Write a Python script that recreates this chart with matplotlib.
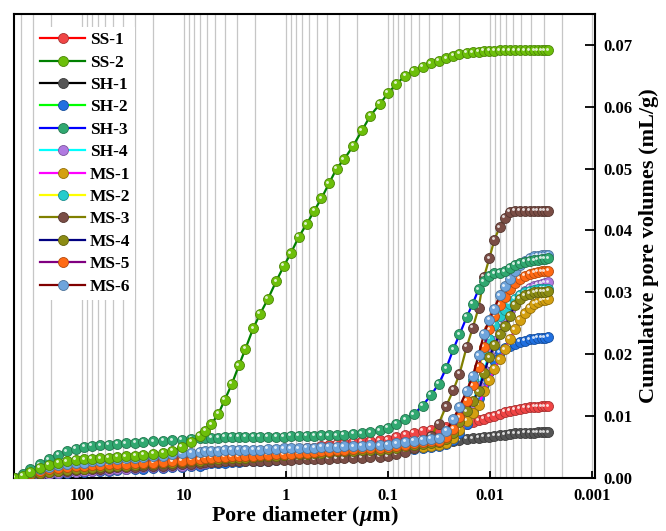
import matplotlib
matplotlib.use("Agg")
import numpy as np
import matplotlib.pyplot as plt
from matplotlib.colors import to_rgb
from matplotlib.transforms import offset_copy
from matplotlib.ticker import LogLocator, FixedLocator, FixedFormatter, NullFormatter

plt.rcParams['font.family'] = ['Liberation Serif', 'DejaVu Serif']
plt.rcParams['font.weight'] = 'bold'
plt.rcParams['mathtext.fontset'] = 'custom'
plt.rcParams['mathtext.it'] = 'Liberation Serif:italic:bold'
plt.rcParams['mathtext.rm'] = 'Liberation Serif:bold'

# pore diameter (um), shared by all samples
diameter = [460, 380, 320, 260, 210, 170, 140, 115, 95, 80, 66, 55, 45, 37, 30, 25, 20, 16, 13, 10.5,
            8.5, 7.0, 6.2, 5.4, 4.6, 4.0, 3.4, 2.9, 2.5, 2.1, 1.8, 1.5, 1.25, 1.05, 0.9, 0.75, 0.63,
            0.53, 0.45, 0.38, 0.32, 0.27, 0.22, 0.18, 0.15, 0.12, 0.10, 0.083, 0.068, 0.056, 0.046,
            0.038, 0.032, 0.027, 0.023, 0.020, 0.017, 0.0148, 0.0130, 0.0115, 0.0102, 0.0091, 0.0081,
            0.0072, 0.0064, 0.0057, 0.0051, 0.0046, 0.0041, 0.0037, 0.0034, 0.0031, 0.0029, 0.0027]

# cumulative pore volume, in 1e-3 mL/g
ss1 = [0, 0.5, 0.9, 1.3, 1.6, 1.9, 2.0, 2.1, 2.2,
       2.3, 2.4, 2.5, 2.6, 2.7, 2.8, 2.9, 3.0, 3.1, 3.2, 3.4,
       3.5, 3.6, 3.9,
       4.0, 4.0, 4.1, 4.1, 4.2, 4.2, 4.3, 4.3, 4.4, 4.4, 4.5,
       4.6, 4.7, 4.8, 4.9, 5.1, 5.3, 5.5, 5.6, 5.8, 5.9, 6.0, 6.1, 6.2,
       6.6, 7.0, 7.3, 7.6, 7.8, 8.0, 8.2, 8.4, 8.6, 8.8, 9.1, 9.3, 9.6, 9.9, 10.1, 10.4, 10.7,
       10.9, 11.0, 11.2, 11.3, 11.4, 11.5, 11.5, 11.6, 11.6, 11.6]
ss2 = [0, 0.4, 1.0, 1.6, 2.1, 2.5, 2.7, 2.9, 3.0,
       3.1, 3.2, 3.3, 3.4, 3.5, 3.6, 3.7, 3.9, 4.1, 4.4, 5.0,
       5.8, 6.8, 7.6,
       8.7, 10.4, 12.6, 15.2, 18.2, 20.9, 24.2, 26.5, 29.0, 31.8, 34.3,
       36.3, 39.0, 41.0, 43.2, 45.2, 47.6, 50.0, 51.5, 53.7, 56.2, 58.5, 60.5, 62.2,
       63.7, 65.0, 65.8, 66.4, 67.0, 67.4, 67.8, 68.2, 68.5, 68.7, 68.8, 68.9, 69.0, 69.0, 69.0,
       69.1, 69.1, 69.1, 69.1, 69.1, 69.1, 69.1, 69.1, 69.1, 69.1, 69.1, 69.1]
sh1 = [0, 0.4, 0.8, 1.2, 1.5, 1.7, 1.8, 1.9, 2.0,
       2.1, 2.2, 2.3, 2.4, 2.5, 2.6, 2.7, 2.8, 2.8, 2.9, 3.0,
       3.1, 3.3, 3.5,
       3.6, 3.6, 3.7, 3.7, 3.8, 3.8, 3.9, 3.9, 3.9, 4.0, 4.0,
       4.1, 4.1, 4.2, 4.2, 4.3, 4.3, 4.4, 4.4, 4.5, 4.6, 4.6, 4.7, 4.8,
       5.0, 5.2, 5.3, 5.4, 5.6, 5.7, 5.9, 6.0, 6.1, 6.3, 6.4, 6.5, 6.6, 6.7, 6.8, 6.9, 7.0,
       7.1, 7.2, 7.2, 7.3, 7.3, 7.3, 7.4, 7.4, 7.4, 7.4]
sh2 = [0, 0.1, 0.2, 0.4, 0.6, 0.7, 0.8, 0.9, 1.0,
       1.1, 1.2, 1.2, 1.3, 1.4, 1.4, 1.5, 1.6, 1.6, 1.7, 1.8,
       1.9, 2.0, 2.3,
       2.4, 2.5, 2.5, 2.6, 2.6, 2.7, 2.7, 2.8, 2.8, 2.9, 3.0,
       3.1, 3.2, 3.3, 3.4, 3.5, 3.6, 3.7, 3.8, 3.9, 4.0, 4.0, 4.1, 4.2,
       4.4, 4.6, 4.7, 4.8, 5.0, 5.2, 5.5, 6.2, 7.2, 8.8, 10.8, 13.0, 15.2, 17.2, 19.0, 20.3, 21.0,
       21.3, 21.7, 22.0, 22.2, 22.4, 22.5, 22.6, 22.7, 22.7, 22.8]
sh3 = [0, 0.6, 1.4, 2.2, 3.0, 3.7, 4.3, 4.7, 5.0,
       5.2, 5.3, 5.4, 5.5, 5.6, 5.7, 5.8, 5.9, 6.0, 6.1, 6.2,
       6.3, 6.4, 6.5,
       6.5, 6.5, 6.6, 6.6, 6.6, 6.6, 6.6, 6.7, 6.7, 6.7, 6.7,
       6.8, 6.8, 6.8, 6.8, 6.9, 6.9, 6.9, 7.0, 7.1, 7.2, 7.4, 7.7, 8.1,
       8.8, 9.5, 10.3, 11.7, 13.4, 15.2, 17.7, 20.8, 23.2, 26.0, 28.2, 30.5, 31.8, 32.7, 33.1,
       33.2, 33.4, 34.0, 34.4, 34.7, 34.9, 35.1, 35.2, 35.3, 35.4, 35.4, 35.5]
sh4 = [0, 0.2, 0.3, 0.5, 0.7, 0.8, 0.9, 1.0, 1.1,
       1.2, 1.3, 1.3, 1.4, 1.5, 1.6, 1.7, 1.7, 1.8, 1.9, 2.0,
       2.1, 2.2, 2.5,
       2.6, 2.7, 2.7, 2.8, 2.9, 2.9, 3.0, 3.1, 3.1, 3.2, 3.3,
       3.4, 3.5, 3.6, 3.7, 3.8, 3.9, 4.0, 4.2, 4.3, 4.4, 4.5, 4.7, 4.8,
       5.0, 5.2, 5.4, 5.6, 5.8, 6.0, 6.4, 7.2, 8.2, 10.0, 12.2, 14.8, 17.5, 20.0, 22.2, 24.0,
       25.7, 27.2, 28.5, 29.5, 30.2, 30.7, 31.0, 31.2, 31.4, 31.5, 31.6]
ms1 = [0, 0.3, 0.5, 0.8, 1.0, 1.2, 1.3, 1.4, 1.5,
       1.6, 1.7, 1.8, 1.9, 2.0, 2.1, 2.2, 2.2, 2.3, 2.4, 2.5,
       2.6, 2.7, 2.9,
       3.0, 3.0, 3.1, 3.1, 3.2, 3.2, 3.3, 3.3, 3.4, 3.4, 3.5,
       3.6, 3.7, 3.8, 3.9, 4.0, 4.0, 4.1, 4.2, 4.3, 4.4, 4.4, 4.5, 4.6,
       4.7, 4.8, 4.9, 5.0, 5.2, 5.4, 5.6, 6.5, 7.8, 9.2, 10.5, 11.8, 14.0, 15.8, 17.6, 19.2,
       20.8, 22.5, 24.0, 25.6, 26.6, 27.5, 28.1, 28.4, 28.7, 28.8, 28.9]
ms2 = [0, 0.3, 0.6, 0.9, 1.1, 1.3, 1.4, 1.5, 1.6,
       1.7, 1.8, 1.9, 2.0, 2.1, 2.2, 2.3, 2.4, 2.5, 2.6, 2.7,
       2.8, 2.9, 3.1,
       3.2, 3.2, 3.3, 3.3, 3.4, 3.4, 3.5, 3.6, 3.6, 3.7, 3.8,
       3.9, 4.0, 4.1, 4.2, 4.2, 4.3, 4.4, 4.5, 4.6, 4.7, 4.8, 4.9, 5.0,
       5.2, 5.4, 5.6, 5.8, 6.0, 6.3, 6.8, 8.0, 9.8, 12.5, 15.8, 18.0, 20.0, 22.5, 24.8, 26.2,
       27.2, 28.2, 29.0, 29.6, 30.0, 30.3, 30.4, 30.5, 30.6, 30.6, 30.6]
ms3 = [0, 0.3, 0.5, 0.7, 0.9, 1.1, 1.2, 1.3, 1.4,
       1.5, 1.5, 1.6, 1.7, 1.7, 1.8, 1.9, 1.9, 2.0, 2.1, 2.2,
       2.3, 2.4, 2.6,
       2.6, 2.6, 2.7, 2.7, 2.7, 2.8, 2.8, 2.8, 2.8, 2.9, 2.9,
       2.9, 3.0, 3.0, 3.0, 3.1, 3.1, 3.2, 3.2, 3.3, 3.3, 3.4, 3.4, 3.5,
       3.8, 4.2, 4.8, 5.6, 6.8, 8.8, 11.6, 14.2, 16.8, 21.2, 24.3, 27.5, 32.5, 35.5, 38.5, 40.5,
       42.0, 43.0, 43.2, 43.2, 43.2, 43.2, 43.2, 43.2, 43.2, 43.2, 43.2]
ms4 = [0, 0.3, 0.5, 0.8, 1.0, 1.2, 1.3, 1.4, 1.5,
       1.6, 1.7, 1.8, 1.9, 2.0, 2.1, 2.2, 2.3, 2.4, 2.5, 2.6,
       2.7, 2.8, 3.0,
       3.1, 3.1, 3.2, 3.2, 3.3, 3.3, 3.4, 3.5, 3.5, 3.6, 3.7,
       3.8, 3.9, 3.9, 4.0, 4.1, 4.2, 4.3, 4.3, 4.4, 4.5, 4.6, 4.6, 4.7,
       4.9, 5.1, 5.3, 5.5, 5.7, 5.8, 6.3, 7.2, 9.0, 10.8, 12.5, 14.0, 17.0, 19.5, 21.5, 23.2,
       24.5, 26.2, 28.0, 29.0, 29.5, 29.8, 30.0, 30.1, 30.1, 30.1, 30.2]
ms5 = [0, 0.4, 0.8, 1.1, 1.4, 1.6, 1.8, 1.9, 2.0,
       2.1, 2.1, 2.2, 2.3, 2.3, 2.4, 2.5, 2.5, 2.6, 2.7, 2.8,
       2.9, 3.0, 3.3,
       3.3, 3.4, 3.4, 3.5, 3.5, 3.6, 3.6, 3.7, 3.7, 3.8, 3.8,
       3.9, 4.0, 4.1, 4.2, 4.3, 4.4, 4.5, 4.6, 4.7, 4.8, 4.8, 4.9, 5.0,
       5.2, 5.4, 5.6, 5.8, 5.9, 6.0, 6.6, 8.0, 9.8, 12.5, 15.0, 18.0, 21.2, 24.0, 26.2, 28.0,
       29.3, 30.5, 31.5, 32.2, 32.7, 33.0, 33.2, 33.3, 33.4, 33.4, 33.5]
ms6 = [0, 0.5, 1.0, 1.4, 1.8, 2.1, 2.3, 2.4, 2.5,
       2.7, 2.8, 3.0, 3.1, 3.2, 3.3, 3.4, 3.5, 3.6, 3.8, 4.0,
       4.1, 4.2, 4.4,
       4.4, 4.4, 4.5, 4.5, 4.5, 4.6, 4.6, 4.6, 4.7, 4.7, 4.8,
       4.8, 4.8, 4.9, 4.9, 5.0, 5.0, 5.0, 5.1, 5.1, 5.2, 5.3, 5.3, 5.4,
       5.6, 5.8, 6.0, 6.2, 6.3, 6.5, 7.6, 9.5, 11.5, 14.1, 16.5, 19.8, 23.3, 25.6, 27.3, 29.5,
       31.0, 32.2, 33.5, 34.5, 35.1, 35.6, 35.8, 35.9, 36.0, 36.0, 36.1]

labels = ['SS-1', 'SS-2', 'SH-1', 'SH-2', 'SH-3', 'SH-4',
          'MS-1', 'MS-2', 'MS-3', 'MS-4', 'MS-5', 'MS-6']
volumes = [ss1, ss2, sh1, sh2, sh3, sh4, ms1, ms2, ms3, ms4, ms5, ms6]
line_colors = ['#ff0000', '#008000', '#000000', '#00ff00', '#0000ff', '#00ffff',
               '#ff00ff', '#ffff00', '#808000', '#000080', '#800080', '#800000']
marker_colors = ['#f04545', '#6cbf0a', '#555555', '#2070e0', '#30a870', '#b07ae0',
                 '#d4a010', '#25cccc', '#7a4d45', '#8c8c14', '#ff6a14', '#6ea4dc']
zorders = [3.2, 4.5, 3.1, 3.3, 4.4, 3.4, 3.5, 3.6, 3.7, 3.8, 3.9, 4.0]

fig = plt.figure(figsize=(6.66, 5.31), dpi=100)
ax = fig.add_axes([0.021, 0.0998, 0.8724, 0.874])

hl = offset_copy(ax.transData, fig=fig, x=-1.2, y=1.2, units='points')
for lab, vol, lc, mc, z in zip(labels, volumes, line_colors, marker_colors, zorders):
    v = np.array(vol) / 1000.0
    edge = tuple(c * 0.7 for c in to_rgb(mc))
    ax.plot(diameter, v, color=lc, lw=1.6, marker='o', ms=7.2, mfc=mc, mec=edge,
            mew=0.6, label=lab, zorder=z)
    ax.plot(diameter, v, ls='none', marker='o', ms=2.1, mfc='white', mec='none',
            alpha=0.8, transform=hl, zorder=z + 0.01)

ax.set_xscale('log')
ax.set_xlim(464, 0.00094)
ax.set_ylim(0, 0.075)

ax.xaxis.set_major_locator(FixedLocator([100, 10, 1, 0.1, 0.01, 0.001]))
ax.xaxis.set_major_formatter(FixedFormatter(['100', '10', '1', '0.1', '0.01', '0.001']))
ax.xaxis.set_minor_locator(LogLocator(base=10, subs=np.arange(2, 10)))
ax.xaxis.set_minor_formatter(NullFormatter())
ax.grid(True, which='both', axis='x', color='#c6c6c6', lw=0.9, zorder=0)

ax.yaxis.tick_right()
ax.yaxis.set_label_position('right')
yt = [0, 0.01, 0.02, 0.03, 0.04, 0.05, 0.06, 0.07]
ax.set_yticks(yt)
ax.set_yticklabels(['%.2f' % t for t in yt])

ax.tick_params(axis='x', which='major', direction='in', length=5, width=1.3,
               labelsize=12, pad=7)
ax.tick_params(axis='x', which='minor', length=0)
ax.tick_params(axis='y', direction='in', length=7, width=1.3, labelsize=12, pad=6)
for s in ax.spines.values():
    s.set_linewidth(1.5)

ax.set_xlabel('Pore diameter (' + r'$\mathit{\mu}$' + 'm)', fontsize=16,
              fontweight='bold', labelpad=0)
ax.set_ylabel('Cumulative pore volumes (mL/g)', fontsize=16, fontweight='bold',
              labelpad=5)

leg = ax.legend(loc='upper left', bbox_to_anchor=(0.036, 0.972), frameon=True,
                fancybox=False, edgecolor='none', facecolor='white', framealpha=1,
                fontsize=12.5, handlelength=2.6, handletextpad=0.25,
                labelspacing=0.36, borderpad=0.3, numpoints=1, borderaxespad=0)
leg.set_zorder(6)

fig.savefig('out.png', dpi=100)
